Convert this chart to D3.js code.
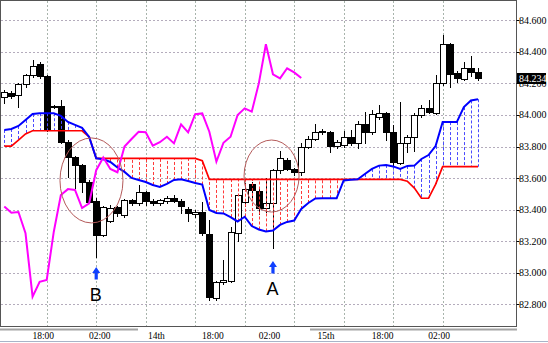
<!DOCTYPE html>
<html><head><meta charset="utf-8">
<script src="https://cdn.jsdelivr.net/npm/d3@7"></script>
<style>
html,body{margin:0;padding:0;background:#fff;}
svg{display:block;}
</style></head><body>
<svg id="chart" width="548" height="343"></svg>
<script>
// ---- data (hourly USD/JPY-style candles, left to right) ----
const opens = [84.116,84.137,84.125,84.194,84.253,84.321,84.249,84.055,84.057,83.831,
83.732,83.683,83.573,83.457,83.239,83.325,83.419,83.366,83.461,83.440,
83.514,83.455,83.440,83.455,83.475,83.455,83.404,83.375,83.385,83.244,
82.838,82.943,82.950,83.250,83.450,83.560,83.520,83.410,83.440,83.650,
83.715,83.658,83.637,83.800,83.848,83.900,83.890,83.805,83.810,83.862,
83.820,83.940,83.890,83.985,84.010,83.894,83.698,83.824,83.862,84.000,
84.042,84.014,84.200,84.448,84.264,84.228,84.296,84.270];
const highs = [84.160,84.150,84.203,84.262,84.348,84.335,84.255,84.062,84.095,83.840,
83.740,83.690,83.590,83.474,83.425,83.430,83.425,83.470,83.470,83.556,
83.520,83.465,83.470,83.485,83.490,83.465,83.415,83.395,83.450,83.334,
82.950,83.080,83.290,83.500,83.570,83.575,83.535,83.600,83.660,83.770,
83.725,83.665,83.820,83.867,83.940,83.910,83.900,83.840,83.900,83.905,
83.960,84.017,84.030,84.065,84.020,83.937,84.084,83.870,84.010,84.063,
84.095,84.253,84.507,84.455,84.280,84.338,84.376,84.300];
const lows = [84.074,84.105,84.052,84.180,84.240,84.235,83.900,84.045,83.820,83.609,
83.537,83.514,83.440,83.100,83.230,83.320,83.360,83.355,83.430,83.430,
83.430,83.430,83.430,83.445,83.450,83.380,83.330,83.355,83.240,82.830,
82.825,82.930,82.940,83.200,83.420,83.470,83.370,83.385,83.160,83.630,
83.650,83.620,83.620,83.790,83.840,83.880,83.765,83.790,83.800,83.810,
83.790,83.820,83.880,83.975,83.840,83.683,83.690,83.765,83.770,83.990,
84.010,84.005,84.190,84.180,84.210,84.220,84.250,84.222];
const closes = [84.148,84.122,84.194,84.253,84.312,84.249,83.905,84.050,83.831,83.736,
83.683,83.573,83.451,83.239,83.419,83.410,83.377,83.461,83.440,83.514,
83.455,83.440,83.460,83.475,83.455,83.420,83.380,83.385,83.250,82.848,
82.943,82.955,83.260,83.493,83.530,83.525,83.410,83.440,83.650,83.730,
83.658,83.637,83.800,83.848,83.894,83.890,83.805,83.827,83.862,83.820,
83.940,83.890,84.005,84.010,83.894,83.704,83.824,83.862,84.000,84.042,
84.021,84.200,84.448,84.258,84.232,84.296,84.270,84.234];
// blue cloud line
const spanA = [83.905,83.911,83.930,83.968,84.006,84.011,84.011,84.011,83.994,83.956,
83.937,83.918,83.861,83.725,83.719,83.702,83.667,83.639,83.601,83.588,
83.575,83.556,83.544,83.563,83.588,83.592,83.582,83.569,83.559,83.398,
83.379,83.376,83.353,83.325,83.355,83.296,83.274,83.262,83.268,83.303,
83.322,83.331,83.404,83.442,83.471,83.472,83.472,83.472,83.585,83.590,
83.592,83.626,83.658,83.679,83.683,83.674,83.658,83.677,83.679,83.721,
83.746,83.803,83.955,83.955,83.955,84.050,84.092,84.100];
// red cloud line
const spanB = [83.803,83.803,83.841,83.880,83.900,83.900,83.900,83.900,83.900,83.900,
83.900,83.900,83.862,83.725,83.725,83.725,83.725,83.725,83.725,83.725,
83.725,83.725,83.725,83.725,83.725,83.725,83.725,83.725,83.710,83.592,
83.592,83.592,83.592,83.592,83.592,83.592,83.592,83.592,83.592,83.592,
83.592,83.592,83.592,83.592,83.592,83.592,83.592,83.592,83.592,83.592,
83.592,83.592,83.592,83.592,83.592,83.592,83.592,83.580,83.537,83.472,
83.472,83.560,83.672,83.672,83.672,83.672,83.672,83.672];
// magenta lagging line (starts at first bar)
const chikou = [83.420,83.380,83.385,83.250,82.848,82.943,82.955,83.260,83.493,83.530,
83.525,83.410,83.440,83.650,83.730,83.658,83.637,83.800,83.848,83.894,
83.890,83.805,83.827,83.862,83.820,83.940,83.890,84.005,84.010,83.894,
83.704,83.824,83.862,84.000,84.042,84.021,84.200,84.448,84.258,84.232,
84.296,84.270,84.234];
const priceTicks = [82.8,83.0,83.2,83.4,83.6,83.8,84.0,84.2,84.4,84.6];
const timeLabels = ["18:00","02:00","14th","18:00","02:00","15th","18:00","02:00"];
const timeLabelBars = [6,14,22,30,38,46,54,62];
const gridBars = [6,13,20,27,34,41,48,55,62];
const lastPrice = 84.234;
const markerLabels = ["B","A"];
const markerBars = [13,38];

// ---- layout ----
const W = 548, H = 343;
const PR = 516.5, PB = 326.5;
const x = d3.scaleLinear().domain([0, opens.length - 1]).range([4.3, 478]);
const y = d3.scaleLinear().domain([82.8, 84.6]).range([304.3, 20.3]);
const fmt = d3.format(".3f");
const crisp = v => Math.round(v) + 0.5;

const svg = d3.select("#chart");
svg.append("rect").attr("width", W).attr("height", H).attr("fill", "#fff");
svg.append("defs").append("clipPath").attr("id", "clip")
  .append("rect").attr("x", 1).attr("y", 1).attr("width", 515.5).attr("height", 325.5);
const g = svg.append("g").attr("clip-path", "url(#clip)");

// grid
g.selectAll("line.hg").data(priceTicks).join("line").attr("class", "hg")
  .attr("x1", 1).attr("x2", PR).attr("y1", d => crisp(y(d))).attr("y2", d => crisp(y(d)))
  .attr("stroke", "#b4acbc").attr("stroke-dasharray", "2,2");
g.selectAll("line.vg").data(gridBars).join("line").attr("class", "vg")
  .attr("y1", 1).attr("y2", PB).attr("x1", d => crisp(x(d))).attr("x2", d => crisp(x(d)))
  .attr("stroke", "#a8b4ac").attr("stroke-dasharray", "2,2");

const idx = d3.range(opens.length);
const cx = i => Math.round(x(i));

// candles
const cg = g.append("g");
cg.selectAll("line.wick").data(idx).join("line").attr("class", "wick")
  .attr("x1", i => cx(i) + 0.5).attr("x2", i => cx(i) + 0.5)
  .attr("y1", i => Math.round(y(highs[i]))).attr("y2", i => Math.round(y(lows[i])) + 1)
  .attr("stroke", "#000");
cg.selectAll("rect.body").data(idx).join("rect").attr("class", "body")
  .attr("x", i => cx(i) - 2.5).attr("width", 6)
  .attr("y", i => Math.round(y(Math.max(opens[i], closes[i]))) + 0.5)
  .attr("height", i => Math.max(0, Math.round(y(Math.min(opens[i], closes[i]))) - Math.round(y(Math.max(opens[i], closes[i])))))
  .attr("fill", i => closes[i] >= opens[i] ? "#fff" : "#000")
  .attr("stroke", "#000");

// cloud hatch
g.selectAll("line.hatch").data(idx.filter(i => Math.abs(y(spanA[i]) - y(spanB[i])) >= 1.5)).join("line")
  .attr("class", "hatch")
  .attr("x1", i => cx(i) + 0.5).attr("x2", i => cx(i) + 0.5)
  .attr("y1", i => y(spanA[i])).attr("y2", i => y(spanB[i]))
  .attr("stroke", i => spanA[i] > spanB[i] ? "#4a4aff" : "#ff3a3a")
  .attr("stroke-dasharray", "3,2");

const line = d3.line().x((d, i) => x(i)).y(d => y(d));
g.append("path").datum(spanB).attr("d", line).attr("fill", "none")
  .attr("stroke", "#ff0000").attr("stroke-width", 1.7);
g.append("path").datum(spanA).attr("d", line).attr("fill", "none")
  .attr("stroke", "#0000ff").attr("stroke-width", 2);
g.append("path").datum(chikou).attr("d", line).attr("fill", "none")
  .attr("stroke", "#ff00ff").attr("stroke-width", 2);

// annotation ellipses
const ellipses = [
  {bar: 12.33, price: 83.585, rx: 31.5, ry: 42.5},
  {bar: 37.8, price: 83.613, rx: 27.5, ry: 36}
];
g.selectAll("ellipse").data(ellipses).join("ellipse")
  .attr("cx", d => x(d.bar)).attr("cy", d => y(d.price))
  .attr("rx", d => d.rx).attr("ry", d => d.ry)
  .attr("fill", "none").attr("stroke", "#b45a5a").attr("stroke-width", 1);

// arrows and letters
const tipPrices = [83.037, 83.075];
markerBars.forEach((b, k) => {
  const ax = x(b), ty = y(tipPrices[k]);
  g.append("path")
    .attr("d", `M${ax},${ty} L${ax + 4},${ty + 6} L${ax + 1.6},${ty + 6} L${ax + 1.6},${ty + 12.5} L${ax - 1.6},${ty + 12.5} L${ax - 1.6},${ty + 6} L${ax - 4},${ty + 6} Z`)
    .attr("fill", "#1040ff");
  g.append("text").attr("x", ax - 0.5).attr("y", ty + 34)
    .attr("text-anchor", "middle")
    .attr("font-family", "Liberation Sans, Arial, sans-serif").attr("font-size", 18)
    .attr("fill", "#000").text(markerLabels[k]);
});

// frame
svg.append("rect").attr("x", 0.5).attr("y", 0.5).attr("width", PR - 0.5).attr("height", PB - 0.5)
  .attr("fill", "none").attr("stroke", "#555");

// right axis
svg.selectAll("line.tk").data(priceTicks).join("line").attr("class", "tk")
  .attr("x1", PR).attr("x2", PR + 3).attr("y1", d => crisp(y(d))).attr("y2", d => crisp(y(d)))
  .attr("stroke", "#000");
svg.selectAll("text.yl").data(priceTicks).join("text").attr("class", "yl")
  .attr("x", 519).attr("y", d => y(d) + 3.5)
  .attr("font-family", "Liberation Serif, Times New Roman, serif").attr("font-size", 10)
  .attr("fill", "#000").text(d => fmt(d));
svg.append("rect").attr("x", 517).attr("y", Math.round(y(lastPrice)) - 5).attr("width", 29).attr("height", 11)
  .attr("fill", "#000");
svg.append("text").attr("x", 519).attr("y", y(lastPrice) + 3.8)
  .attr("font-family", "Liberation Serif, Times New Roman, serif").attr("font-size", 10)
  .attr("fill", "#fff").text(fmt(lastPrice));

// bottom axis
svg.append("rect").attr("x", 0).attr("y", 328.5).attr("width", 138).attr("height", 2).attr("fill", "#a4a4a4");
svg.append("rect").attr("x", 310).attr("y", 328.5).attr("width", 207).attr("height", 2).attr("fill", "#a4a4a4");
svg.append("line").attr("x1", 0).attr("x2", W).attr("y1", 341.5).attr("y2", 341.5).attr("stroke", "#a8b4c8");
svg.selectAll("text.xl").data(timeLabels).join("text").attr("class", "xl")
  .attr("x", (d, k) => x(timeLabelBars[k]) - 3.5).attr("y", 339)
  .attr("text-anchor", "middle")
  .attr("font-family", "Liberation Serif, Times New Roman, serif").attr("font-size", 9.5)
  .attr("fill", "#000").text(d => d);
</script>
</body></html>
